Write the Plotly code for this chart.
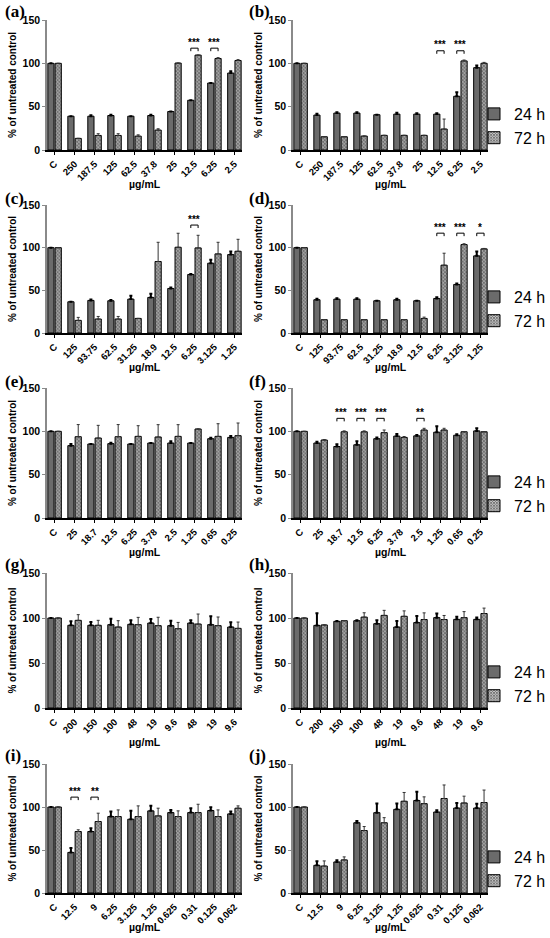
import plotly.graph_objects as go

# ---- data (mean % of untreated control, upper error) ----
cats_a = ["C", "250", "187.5", "125", "62.5", "37.8", "25", "12.5", "6.25", "2.5"]
h24_a = [100, 39, 39, 39.8, 39, 39.8, 44.4, 57.4, 77.3, 88.8]
h24_a_err = [0, 0, 1, 1, 0, 1, 0, 0, 0, 2]
h72_a = [100, 13.4, 16.8, 16.8, 16, 23, 100.3, 109.5, 105.6, 103.3]
h72_a_err = [0, 0, 2, 2, 1.5, 1.5, 0, 0, 1, 1]
sig_a = [(7, "***"), (8, "***")]

cats_b = ["C", "250", "187.5", "125", "62.5", "37.8", "25", "12.5", "6.25", "2.5"]
h24_b = [100, 40.3, 42.6, 42.6, 40.7, 41.4, 41.4, 41.4, 62, 95]
h24_b_err = [0, 1.5, 1, 1, 0, 1.5, 1, 1, 4.5, 2.5]
h72_b = [100, 15.3, 15.3, 16.1, 16.9, 16.9, 16.9, 24.2, 102.8, 100.1]
h72_b_err = [0, 0, 0, 0, 0, 0, 0, 11.5, 1, 1]
sig_b = [(7, "***"), (8, "***")]

cats_c = ["C", "125", "93.75", "62.5", "31.25", "18.9", "12.5", "6.25", "3.125", "1.25"]
h24_c = [100, 36.6, 38.2, 37.8, 39.7, 41.7, 52.2, 68.6, 81.8, 91.9]
h24_c_err = [0, 0, 1, 1, 4, 4.3, 1, 0.5, 4, 3.5]
h72_c = [100, 14.8, 16.4, 16.4, 17.1, 83.8, 100.5, 99.7, 92.7, 95.8]
h72_c_err = [0, 3.5, 3, 3, 0, 22.5, 16.4, 14.8, 13.6, 14]
sig_c = [(7, "***")]

cats_d = ["C", "125", "93.75", "62.5", "31.25", "18.9", "12.5", "6.25", "3.125", "1.25"]
h24_d = [100, 39, 39.7, 39.7, 37.8, 39, 37.8, 40.5, 56.9, 90.4]
h24_d_err = [0, 1, 1, 1, 0, 1, 0, 1.5, 1, 5]
h72_d = [100, 15.6, 15.6, 15.6, 15.6, 15.6, 17.1, 79.5, 103.6, 98.6]
h72_d_err = [0, 0, 0, 0, 0, 0, 1.5, 14, 1, 0.5]
sig_d = [(7, "***"), (8, "***"), (9, "*")]

cats_e = ["C", "25", "18.7", "12.5", "6.25", "3.78", "2.5", "1.25", "0.65", "0.25"]
h24_e = [100, 83.5, 85.4, 85.8, 85.4, 86.5, 86.5, 86.5, 91.5, 93]
h24_e_err = [0, 2, 0, 1, 0, 0, 2, 0, 1, 1.5]
h72_e = [100, 93.8, 92.3, 93.8, 94.2, 93.5, 94.2, 102.7, 94.2, 95]
h72_e_err = [0, 14, 14.6, 14, 12.3, 14.2, 13.5, 0, 14.6, 14.6]
sig_e = []

cats_f = ["C", "25", "18.7", "12.5", "6.25", "3.78", "2.5", "1.25", "0.65", "0.25"]
h24_f = [100, 86.5, 82.5, 84.5, 91.5, 94.5, 94.8, 99, 95.5, 100.5]
h24_f_err = [0, 1.5, 2.7, 4, 1.5, 2.5, 1, 6.8, 1, 3]
h72_f = [100, 90, 99.5, 99.5, 98.5, 93, 101.5, 101.5, 99.5, 99.5]
h72_f_err = [0, 0.5, 1, 1, 3, 1, 2, 2, 0, 0]
sig_f = [(2, "***"), (3, "***"), (4, "***"), (6, "**")]

cats_g = ["C", "200", "150", "100", "48", "19", "9.6", "48", "19", "9.6"]
h24_g = [100, 91.9, 91.9, 92.6, 93, 94.4, 91.5, 94.4, 92.6, 90]
h24_g_err = [0, 4.4, 3.7, 6.7, 4.4, 4.4, 5.5, 3, 9.3, 5.2]
h72_g = [100, 97.4, 91.9, 90, 92.6, 91.5, 88.1, 93.3, 91.5, 88.5]
h72_g_err = [0, 6.3, 5.5, 7, 8.1, 9.3, 7, 11.1, 9.6, 7]
sig_g = []

cats_h = ["C", "200", "150", "100", "48", "19", "9.6", "48", "19", "9.6"]
h24_h = [100, 91.8, 96.3, 97, 93.7, 90, 94.9, 100.4, 98.5, 98.5]
h24_h_err = [0, 13.4, 0.5, 0.5, 3.7, 6.7, 7.4, 4.5, 3, 2]
h72_h = [100, 92.3, 97, 101, 102.9, 101.9, 98.3, 98.3, 100.4, 105]
h72_h_err = [0, 0, 0, 4.8, 5.6, 6, 7.4, 4.5, 6.7, 6]
sig_h = []

cats_i = ["C", "12.5", "9", "6.25", "3.125", "1.25", "0.625", "0.31", "0.125", "0.062"]
h24_i = [100, 47.2, 71.5, 88.9, 85.8, 95.5, 93.5, 93.5, 95.9, 92]
h24_i_err = [0, 5, 3.9, 5.8, 9.7, 6, 3, 5, 3.9, 2.7]
h72_i = [100, 71.5, 83.1, 88.9, 88.9, 89.7, 88.9, 93.5, 88.9, 98.6]
h72_i_err = [0, 2, 9.7, 7.7, 12.4, 8.9, 6.6, 9.7, 7.7, 2.7]
sig_i = [(1, "***"), (2, "**")]

cats_j = ["C", "12.5", "9", "6.25", "3.125", "1.25", "0.625", "0.31", "0.125", "0.062"]
h24_j = [100, 32.2, 36.1, 81.7, 93.4, 97.3, 107.6, 94.2, 98.8, 98.8]
h24_j_err = [0, 4.7, 2, 2, 10.6, 6.7, 10.2, 2, 5.9, 5.1]
h72_j = [100, 31.4, 38.5, 72.6, 81.7, 106.7, 103.9, 109.9, 104.7, 105.2]
h72_j_err = [0, 5.9, 3.5, 4.7, 5.9, 10.2, 7.9, 15.7, 7.9, 14.5]
sig_j = []

panel_labels = ["(a)", "(b)", "(c)", "(d)", "(e)", "(f)", "(g)", "(h)", "(i)", "(j)"]
series_names = ["24 h", "72 h"]
y_ticks = [0, 50, 100, 150]

panels = [
    (cats_a, h24_a, h24_a_err, h72_a, h72_a_err, sig_a, 117.5),
    (cats_b, h24_b, h24_b_err, h72_b, h72_b_err, sig_b, 114.5),
    (cats_c, h24_c, h24_c_err, h72_c, h72_c_err, sig_c, 126.5),
    (cats_d, h24_d, h24_d_err, h72_d, h72_d_err, sig_d, 117),
    (cats_e, h24_e, h24_e_err, h72_e, h72_e_err, sig_e, 0),
    (cats_f, h24_f, h24_f_err, h72_f, h72_f_err, sig_f, 115),
    (cats_g, h24_g, h24_g_err, h72_g, h72_g_err, sig_g, 0),
    (cats_h, h24_h, h24_h_err, h72_h, h72_h_err, sig_h, 0),
    (cats_i, h24_i, h24_i_err, h72_i, h72_i_err, sig_i, 111.5),
    (cats_j, h24_j, h24_j_err, h72_j, h72_j_err, sig_j, 0),
]

# ---- layout geometry (pixels of a 550x938 page) ----
W, H = 550, 938
col_px = [(47, 242), (293, 488)]
row_px = [(20, 150), (205, 333), (388, 518), (573, 708), (764, 893)]
label_y_px = [12, 199, 382, 564, 755]
label_x_px = [3, 247]

BARGAP = 0.27
GROUPGAP = 0.15
half = (1 - BARGAP) / 4  # offset of each bar centre from category centre

FONT = "Liberation Sans, Arial, sans-serif"
GRAY = "#6b6b6b"

fig = go.Figure()
layout = dict(
    width=W, height=H,
    margin=dict(l=0, r=0, t=0, b=0, autoexpand=False),
    paper_bgcolor="white", plot_bgcolor="white",
    barmode="group", bargap=BARGAP, bargroupgap=GROUPGAP,
    font=dict(family=FONT, color="black"),
)
shapes = []
annotations = []

for k, (cats, v24, e24, v72, e72, sig, level) in enumerate(panels):
    row, col = divmod(k, 2)
    n = k + 1
    xa = "x" if n == 1 else f"x{n}"
    ya = "y" if n == 1 else f"y{n}"
    xs = list(range(len(cats)))
    leg = "legend" if row == 0 else f"legend{row + 1}"
    show = col == 1

    fig.add_trace(go.Bar(
        x=xs, y=v24, name=series_names[0], xaxis=xa, yaxis=ya,
        marker=dict(color=GRAY, line=dict(color="black", width=1)),
        error_y=dict(type="data", symmetric=False, array=e24,
                     arrayminus=[0] * len(e24), color="black",
                     thickness=2, width=1.5),
        showlegend=show, legend=leg,
    ))
    fig.add_trace(go.Bar(
        x=xs, y=v72, name=series_names[1], xaxis=xa, yaxis=ya,
        marker=dict(color="white", line=dict(color="black", width=1),
                    pattern=dict(shape="x", size=2.5, solidity=0.7,
                                 fgcolor="#1a1a1a", bgcolor="#c8c8c8")),
        error_y=dict(type="data", symmetric=False, array=e72,
                     arrayminus=[0] * len(e72), color="#333333",
                     thickness=1, width=1.5),
        showlegend=show, legend=leg,
    ))

    x0, x1 = col_px[col]
    ytop, ybot = row_px[row]
    axn = "" if n == 1 else str(n)
    layout["xaxis" + axn] = dict(
        domain=[x0 / W, x1 / W], anchor=ya,
        range=[-0.38, len(cats) - 0.62],
        tickvals=xs, ticktext=cats, tickangle=-45,
        tickfont=dict(size=9.5, weight="bold"),
        showline=True, linecolor="black", linewidth=1.5,
        ticks="outside", ticklen=3, tickwidth=1, tickcolor="black",
        showgrid=False, zeroline=False,
    )
    layout["yaxis" + axn] = dict(
        domain=[1 - ybot / H, 1 - ytop / H], anchor=xa,
        range=[0, 150], tickvals=y_ticks,
        tickfont=dict(size=10.5, weight="bold"),
        showline=True, linecolor="#8a8a8a", linewidth=1.5,
        ticks="outside", ticklen=3, tickwidth=1, tickcolor="#8a8a8a",
        showgrid=False, zeroline=False,
        title=dict(text="% of untreated control",
                   font=dict(size=10, weight="bold"), standoff=4),
    )

    # x-axis title, fixed distance under the axis
    annotations.append(dict(
        text="µg/mL", xref="paper", yref="paper",
        x=(x0 + x1) / 2 / W, y=1 - (ybot + 34) / H,
        xanchor="center", yanchor="middle", showarrow=False,
        font=dict(size=10.5, weight="bold"),
    ))

    # panel letter
    annotations.append(dict(
        text=panel_labels[k], xref="paper", yref="paper",
        x=label_x_px[col] / W, y=1 - label_y_px[row] / H,
        xanchor="left", yanchor="middle", showarrow=False,
        font=dict(family="Liberation Serif, DejaVu Serif, serif", size=17, weight="bold"),
    ))

    # significance brackets
    for idx, stars in sig:
        xl, xr = idx - half, idx + half
        shapes.append(dict(
            type="path", xref=xa, yref=ya,
            path=f"M {xl},{level - 3.5} L {xl},{level} L {xr},{level} L {xr},{level - 3.5}",
            line=dict(color="black", width=1),
        ))
        annotations.append(dict(
            text=stars, xref=xa, yref=ya, x=idx, y=level,
            xanchor="center", yanchor="middle", yshift=6, showarrow=False,
            font=dict(size=10, weight="bold", color="black"),
        ))

    if show:
        layout[leg] = dict(
            x=474 / W, y=1 - (ybot - 24) / H, xanchor="left", yanchor="middle",
            font=dict(size=16), bgcolor="rgba(0,0,0,0)",
            tracegroupgap=0, itemwidth=30,
        )

layout["shapes"] = shapes
layout["annotations"] = annotations
fig.update_layout(**layout)

# the page is photographed at exactly the figure size: drop the body margin
fig.write_html(
    "out.html",
    config={"displayModeBar": False},
    post_script="document.body.style.margin='0';"
                "document.documentElement.style.overflow='hidden';",
)
